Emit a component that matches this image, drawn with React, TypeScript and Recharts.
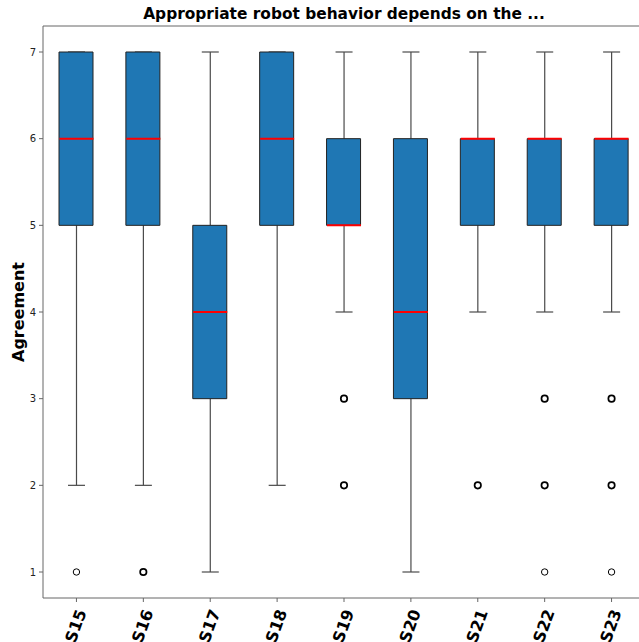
import { ComposedChart, Bar, Scatter, XAxis, YAxis, ReferenceLine } from "recharts";

const categories = ["S15", "S16", "S17", "S18", "S19", "S20", "S21", "S22", "S23"];
const whiskerLow = [2, 2, 1, 2, 4, 1, 4, 4, 4];
const quartile1 = [5, 5, 3, 5, 5, 3, 5, 5, 5];
const medians = [6, 6, 4, 6, 5, 4, 6, 6, 6];
const quartile3 = [7, 7, 5, 7, 6, 6, 6, 6, 6];
const whiskerHigh = [7, 7, 7, 7, 7, 7, 7, 7, 7];

// fliers: category, value, how heavy the circle looks (overlapping points)
const outlierCats = ["S15", "S16", "S19", "S19", "S21", "S22", "S22", "S22", "S23", "S23", "S23"];
const outlierValues = [1, 1, 3, 2, 2, 3, 2, 1, 3, 2, 1];
const outlierWeight = [1, 2, 2, 2, 2, 2, 2, 1, 2, 2, 1];

const yTicks = [1, 2, 3, 4, 5, 6, 7];

const rows = categories.map((name, i) => ({
  name,
  low: [whiskerLow[i], quartile1[i]],
  box: [quartile1[i], quartile3[i]],
  high: [quartile3[i], whiskerHigh[i]],
  median: medians[i],
}));

const outliers = outlierCats.map((name, i) => ({
  name,
  value: outlierValues[i],
  weight: outlierWeight[i],
}));

const FONT = "'DejaVu Sans', sans-serif";
const LINE = "#4a4a4a";

// eslint-disable-next-line @typescript-eslint/no-explicit-any
const LowWhisker = (p: any) => {
  const { x, y, width, height } = p;
  if (x == null || y == null) return <g />;
  const cx = x + width / 2;
  const top = Math.min(y, y + height);
  const bot = Math.max(y, y + height);
  return (
    <g>
      <line x1={cx} x2={cx} y1={top} y2={bot} stroke={LINE} strokeWidth={1.2} />
      <line x1={x} x2={x + width} y1={bot} y2={bot} stroke={LINE} strokeWidth={1.2} />
    </g>
  );
};

// eslint-disable-next-line @typescript-eslint/no-explicit-any
const HighWhisker = (p: any) => {
  const { x, y, width, height } = p;
  if (x == null || y == null) return <g />;
  const cx = x + width / 2;
  const top = Math.min(y, y + height);
  const bot = Math.max(y, y + height);
  return (
    <g>
      <line x1={cx} x2={cx} y1={top} y2={bot} stroke={LINE} strokeWidth={1.2} />
      <line x1={x} x2={x + width} y1={top} y2={top} stroke={LINE} strokeWidth={1.2} />
    </g>
  );
};

// eslint-disable-next-line @typescript-eslint/no-explicit-any
const MedianMark = (p: any) => (
  <line x1={p.cx - 17} x2={p.cx + 17} y1={p.cy} y2={p.cy} stroke="#ff0000" strokeWidth={2} />
);

// eslint-disable-next-line @typescript-eslint/no-explicit-any
const Flier = (p: any) => (
  <circle
    cx={p.cx}
    cy={p.cy}
    r={3.2}
    fill="none"
    stroke="#000"
    strokeWidth={p.payload?.weight > 1 ? 1.7 : 1}
  />
);

// eslint-disable-next-line @typescript-eslint/no-explicit-any
const CategoryTick = (p: any) => {
  const { x, y, payload } = p;
  const ax = x + 5;
  const ay = y + 6;
  return (
    <text
      x={ax}
      y={ay}
      textAnchor="end"
      transform={`rotate(-70 ${ax} ${ay})`}
      fontFamily={FONT}
      fontWeight="bold"
      fontSize={16}
      fill="#000"
      dy="0.35em"
    >
      {payload.value}
    </text>
  );
};

// eslint-disable-next-line @typescript-eslint/no-explicit-any
const AxisTitle = (p: any) => {
  const vb = p.viewBox || {};
  const cy = (vb.y ?? 26) + (vb.height ?? 572) / 2;
  const cx = 18;
  return (
    <text
      x={cx}
      y={cy}
      transform={`rotate(-90 ${cx} ${cy})`}
      textAnchor="middle"
      dominantBaseline="central"
      fontFamily={FONT}
      fontWeight="bold"
      fontSize={16}
      fill="#000"
    >
      Agreement
    </text>
  );
};

export default function App() {
  return (
    <div
      style={{
        position: "absolute",
        left: 0,
        top: 0,
        width: 639,
        height: 642,
        overflow: "hidden",
        background: "#fff",
      }}
    >
      <div
        style={{
          position: "absolute",
          left: 344,
          top: 5,
          transform: "translateX(-50%)",
          whiteSpace: "nowrap",
          fontFamily: FONT,
          fontWeight: "bold",
          fontSize: 15.4,
        }}
      >
        Appropriate robot behavior depends on the ...
      </div>
      <ComposedChart
        width={660}
        height={642}
        data={rows}
        margin={{ top: 26, right: 15, bottom: 0, left: 8 }}
      >
        <XAxis
          xAxisId="main"
          dataKey="name"
          allowDuplicatedCategory={false}
          stroke="#666"
          tickSize={4}
          tick={<CategoryTick />}
          height={44}
          interval={0}
        />
        <XAxis xAxisId="wl" dataKey="name" hide />
        <XAxis xAxisId="wh" dataKey="name" hide />
        <YAxis
          type="number"
          domain={[0.7, 7.3]}
          ticks={yTicks}
          allowDataOverflow
          width={35}
          stroke="#666"
          tickSize={4}
          tickMargin={3}
          tick={{ fontSize: 10, fill: "#222", fontFamily: FONT }}
          label={<AxisTitle />}
        />
        <ReferenceLine xAxisId="main" y={7.3} stroke="#666" strokeWidth={1} />
        <Bar xAxisId="wl" dataKey="low" barSize={17} shape={<LowWhisker />} isAnimationActive={false} />
        <Bar xAxisId="wh" dataKey="high" barSize={17} shape={<HighWhisker />} isAnimationActive={false} />
        <Bar
          xAxisId="main"
          dataKey="box"
          barSize={34}
          fill="#1f77b4"
          stroke="#222"
          strokeWidth={1}
          isAnimationActive={false}
        />
        <Scatter xAxisId="main" dataKey="median" shape={<MedianMark />} isAnimationActive={false} />
        <Scatter
          xAxisId="main"
          data={outliers}
          dataKey="value"
          shape={<Flier />}
          isAnimationActive={false}
        />
      </ComposedChart>
    </div>
  );
}
